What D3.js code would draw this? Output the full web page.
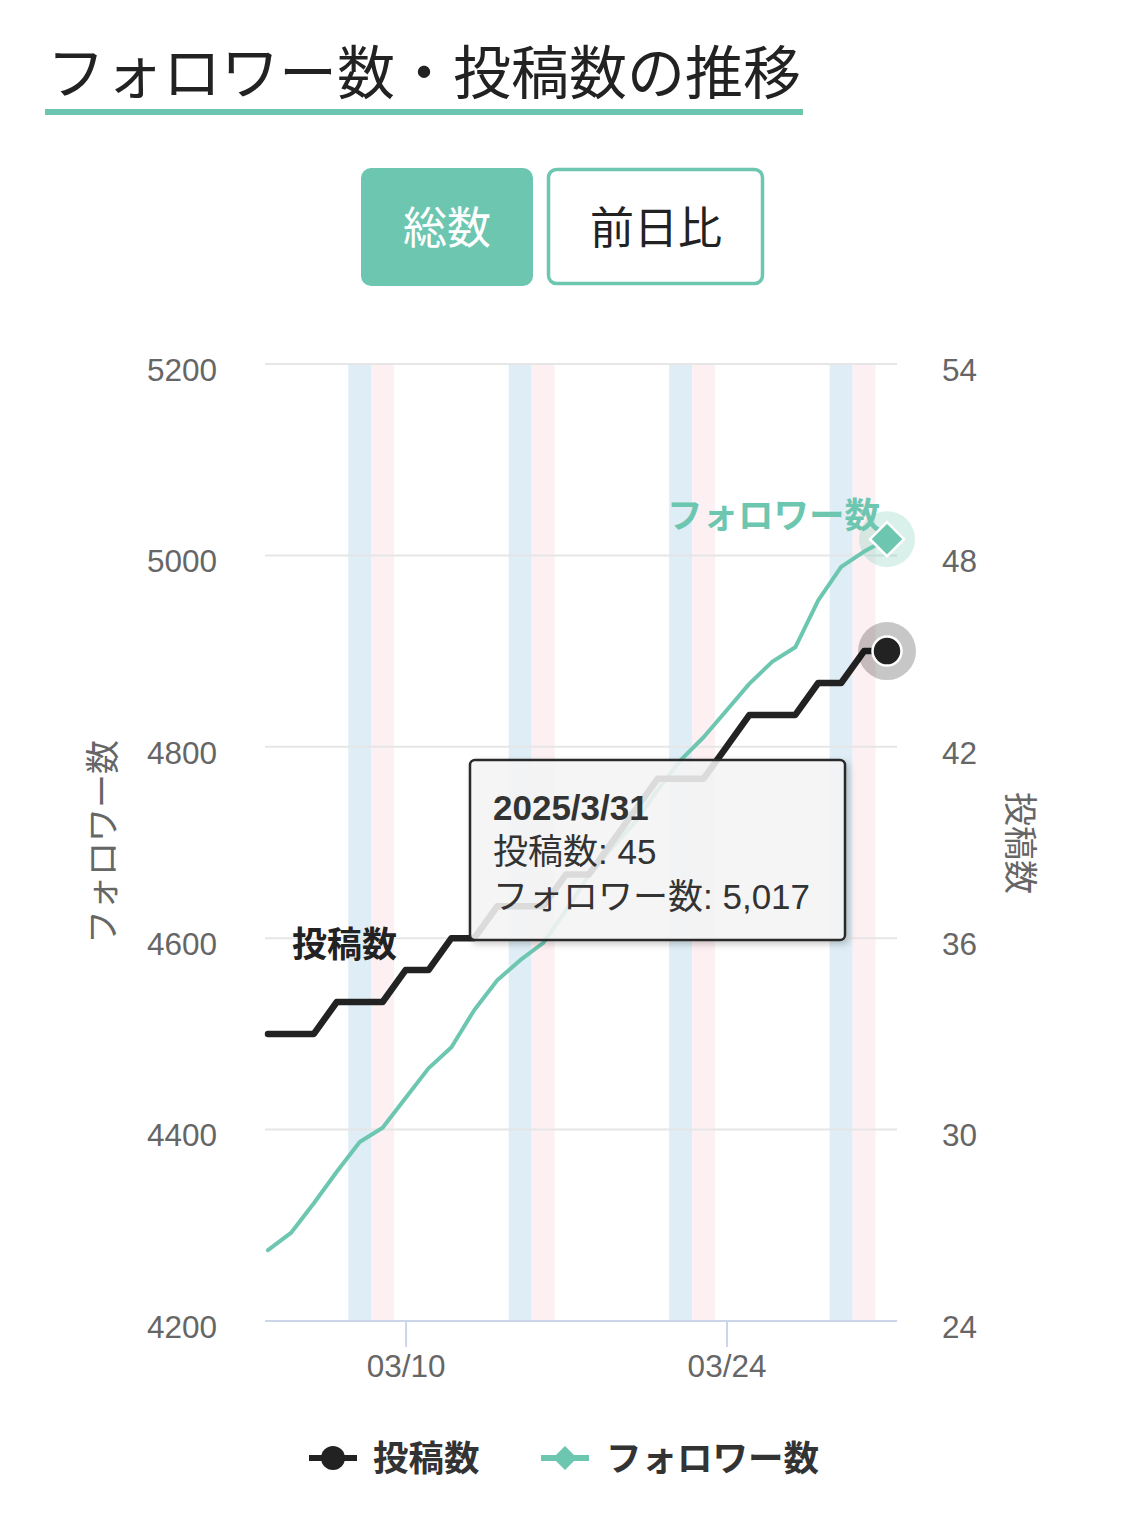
<!DOCTYPE html>
<html><head><meta charset="utf-8">
<script src="https://cdn.jsdelivr.net/npm/d3@7"></script>
<style>body{margin:0;background:#fff} svg{display:block}</style>
</head><body><svg id="c" width="1125" height="1521"></svg>
<script>
// ---- data ----
const dates = ["2025-03-04","2025-03-05","2025-03-06","2025-03-07","2025-03-08","2025-03-09","2025-03-10",
  "2025-03-11","2025-03-12","2025-03-13","2025-03-14","2025-03-15","2025-03-16","2025-03-17",
  "2025-03-18","2025-03-19","2025-03-20","2025-03-21","2025-03-22","2025-03-23","2025-03-24",
  "2025-03-25","2025-03-26","2025-03-27","2025-03-28","2025-03-29","2025-03-30","2025-03-31"];
const posts = [33,33,33,34,34,34,35,35,36,36,37,37,37,38,38,39,40,41,41,41,42,43,43,43,44,44,45,45];
const followers = [4274,4292,4323,4356,4387,4402,4433,4464,4486,4525,4556,4577,4595,4629,4666,4694,4721,4755,4786,4810,4838,4866,4889,4904,4953,4988,5004,5017];
const leftTicks = [4200,4400,4600,4800,5000,5200];
const rightTicks = [24,30,36,42,48,54];
const xTickDates = ["2025-03-10","2025-03-24"];
const titleText = "フォロワー数・投稿数の推移";
const buttons = ["総数","前日比"];
const seriesNames = ["投稿数","フォロワー数"];

// ---- setup ----
const TEAL = "#6cc6b0", DARK = "#222222";
const JP = "'Noto Sans CJK JP', sans-serif";
const NUM = "'Liberation Sans', 'Noto Sans CJK JP', sans-serif";
const parse = d3.timeParse("%Y-%m-%d");
const D = dates.map(parse);
const svg = d3.select("#c");

const plot = {left:265, right:897, top:364, bottom:1321};
const x = d3.scaleTime().domain([D[0], D[D.length-1]]).range([268, 887]);
const yL = d3.scaleLinear().domain([4200,5200]).range([plot.bottom, plot.top]);
const yR = d3.scaleLinear().domain([24,54]).range([plot.bottom, plot.top]);
const dayW = x(D[1]) - x(D[0]);

// title
svg.append("text").attr("x",47).attr("y",94).attr("font-family",JP).attr("font-size",58)
  .attr("fill","#222").text(titleText);
svg.append("rect").attr("x",45).attr("y",109).attr("width",758).attr("height",6).attr("fill",TEAL);

// buttons
svg.append("rect").attr("x",361).attr("y",168).attr("width",172).attr("height",118).attr("rx",10).attr("fill",TEAL);
svg.append("text").attr("x",447).attr("y",244).attr("text-anchor","middle").attr("font-family",JP)
  .attr("font-size",44).attr("fill","#fff").text(buttons[0]);
svg.append("rect").attr("x",548.5).attr("y",169.5).attr("width",214).attr("height",114).attr("rx",8)
  .attr("fill","#fff").attr("stroke",TEAL).attr("stroke-width",3.5);
svg.append("text").attr("x",656).attr("y",244).attr("text-anchor","middle").attr("font-family",JP)
  .attr("font-size",44).attr("fill","#222").text(buttons[1]);

// weekend bands
const bands = svg.append("g");
D.forEach(d => {
  const wd = d.getDay();
  if (wd === 6 || wd === 0) {
    bands.append("rect").attr("x", x(d) - dayW/2).attr("y", plot.top)
      .attr("width", dayW).attr("height", plot.bottom - plot.top)
      .attr("fill", wd === 6 ? "#deedf6" : "#fdf0f3");
  }
});

// grid
const grid = svg.append("g");
leftTicks.forEach(t => {
  if (t === 4200) return;
  grid.append("line").attr("x1",plot.left).attr("x2",plot.right).attr("y1",yL(t)).attr("y2",yL(t))
    .attr("stroke","#e6e6e6").attr("stroke-width",2);
});

// left axis labels
const gl = svg.append("g").attr("transform",`translate(217,5)`)
  .call(d3.axisLeft(yL).tickValues(leftTicks).tickSize(0).tickPadding(0).tickFormat(d3.format("d")));
gl.select(".domain").remove();
gl.selectAll("text").attr("font-family",NUM).attr("font-size",31.5).attr("fill","#666").attr("dy","0.36em");

const gr = svg.append("g").attr("transform",`translate(942,5)`)
  .call(d3.axisRight(yR).tickValues(rightTicks).tickSize(0).tickPadding(0));
gr.select(".domain").remove();
gr.selectAll("text").attr("font-family",NUM).attr("font-size",31.5).attr("fill","#666").attr("dy","0.36em");

// x axis
const gx = svg.append("g").attr("transform",`translate(0,${plot.bottom})`)
  .call(d3.axisBottom(x).tickValues(xTickDates.map(parse)).tickSize(26).tickPadding(2).tickFormat(d3.timeFormat("%m/%d")));
gx.select(".domain").attr("d",`M${plot.left},0H${plot.right}`).attr("stroke","#ccd6eb").attr("stroke-width",2);
gx.selectAll(".tick line").attr("stroke","#ccd6eb").attr("stroke-width",2);
gx.selectAll("text").attr("font-family",NUM).attr("font-size",31.5).attr("fill","#666").attr("dy","0.9em");

// axis titles
svg.append("text").attr("transform",`translate(115,842) rotate(-90)`).attr("text-anchor","middle")
  .attr("font-family",JP).attr("font-size",34).attr("fill","#666").text(seriesNames[1]);
svg.append("text").attr("transform",`translate(1008,843) rotate(90)`).attr("text-anchor","middle")
  .attr("font-family",JP).attr("font-size",34).attr("fill","#666").text(seriesNames[0]);

// lines
const lineF = d3.line().x((d,i)=>x(D[i])).y(d=>yL(d));
const lineP = d3.line().x((d,i)=>x(D[i])).y(d=>yR(d));
svg.append("path").attr("d",lineF(followers)).attr("fill","none").attr("stroke",TEAL)
  .attr("stroke-width",4).attr("stroke-linejoin","round").attr("stroke-linecap","round");
svg.append("path").attr("d",lineP(posts)).attr("fill","none").attr("stroke",DARK)
  .attr("stroke-width",6.5).attr("stroke-linejoin","round").attr("stroke-linecap","round");

// series labels
svg.append("text").attr("x",292).attr("y",957).attr("font-family",JP).attr("font-weight","bold")
  .attr("font-size",35).attr("fill","#222").text(seriesNames[0]);
svg.append("text").attr("x",667).attr("y",528).attr("font-family",JP).attr("font-weight","bold")
  .attr("font-size",35.5).attr("fill",TEAL).text(seriesNames[1]);

// hover markers at last point
const li = D.length - 1;
const lx = x(D[li]);
svg.append("circle").attr("cx",lx).attr("cy",yL(followers[li])).attr("r",28).attr("fill",TEAL).attr("opacity",0.25);
svg.append("path").attr("transform",`translate(${lx},${yL(followers[li])})`)
  .attr("d","M0,-17L17,0L0,17L-17,0Z").attr("fill",TEAL).attr("stroke","#fff").attr("stroke-width",2.5);
svg.append("circle").attr("cx",lx).attr("cy",yR(posts[li])).attr("r",29).attr("fill","#000").attr("opacity",0.22);
svg.append("circle").attr("cx",lx).attr("cy",yR(posts[li])).attr("r",14.5).attr("fill",DARK).attr("stroke","#fff").attr("stroke-width",2.5);

// tooltip
const defs = svg.append("defs");
const f = defs.append("filter").attr("id","sh").attr("x","-10%").attr("y","-10%").attr("width","130%").attr("height","130%");
f.append("feDropShadow").attr("dx",3).attr("dy",3).attr("stdDeviation",3).attr("flood-color","#000").attr("flood-opacity",0.22);
const tt = svg.append("g").attr("transform","translate(470,760)");
tt.append("rect").attr("x",0).attr("y",0).attr("width",375).attr("height",180).attr("rx",5)
  .attr("fill","rgba(247,247,247,0.86)").attr("stroke","#2a2a2a").attr("stroke-width",2.5).attr("filter","url(#sh)");
const fmtD = d3.timeFormat("%Y/%-m/%-d");
tt.append("text").attr("x",23).attr("y",60).attr("font-family",NUM).attr("font-weight","bold")
  .attr("font-size",35).attr("fill","#333").text(fmtD(D[li]));
tt.append("text").attr("x",23).attr("y",104).attr("font-family",NUM).attr("font-size",35)
  .attr("fill","#333").text(`${seriesNames[0]}: ${posts[li]}`);
tt.append("text").attr("x",23).attr("y",149).attr("font-family",NUM).attr("font-size",35)
  .attr("fill","#333").text(`${seriesNames[1]}: ${d3.format(",")(followers[li])}`);

// legend
const lg = svg.append("g");
lg.append("line").attr("x1",309).attr("x2",357).attr("y1",1458).attr("y2",1458).attr("stroke",DARK).attr("stroke-width",6);
lg.append("circle").attr("cx",333).attr("cy",1458).attr("r",12).attr("fill",DARK);
lg.append("text").attr("x",373).attr("y",1471).attr("font-family",JP).attr("font-weight","bold")
  .attr("font-size",35.5).attr("fill","#333").text(seriesNames[0]);
lg.append("line").attr("x1",541).attr("x2",589).attr("y1",1458).attr("y2",1458).attr("stroke",TEAL).attr("stroke-width",6);
lg.append("path").attr("transform","translate(565,1458)").attr("d","M0,-12L12,0L0,12L-12,0Z").attr("fill",TEAL);
lg.append("text").attr("x",606).attr("y",1471).attr("font-family",JP).attr("font-weight","bold")
  .attr("font-size",35.5).attr("fill","#333").text(seriesNames[1]);
</script></body></html>
